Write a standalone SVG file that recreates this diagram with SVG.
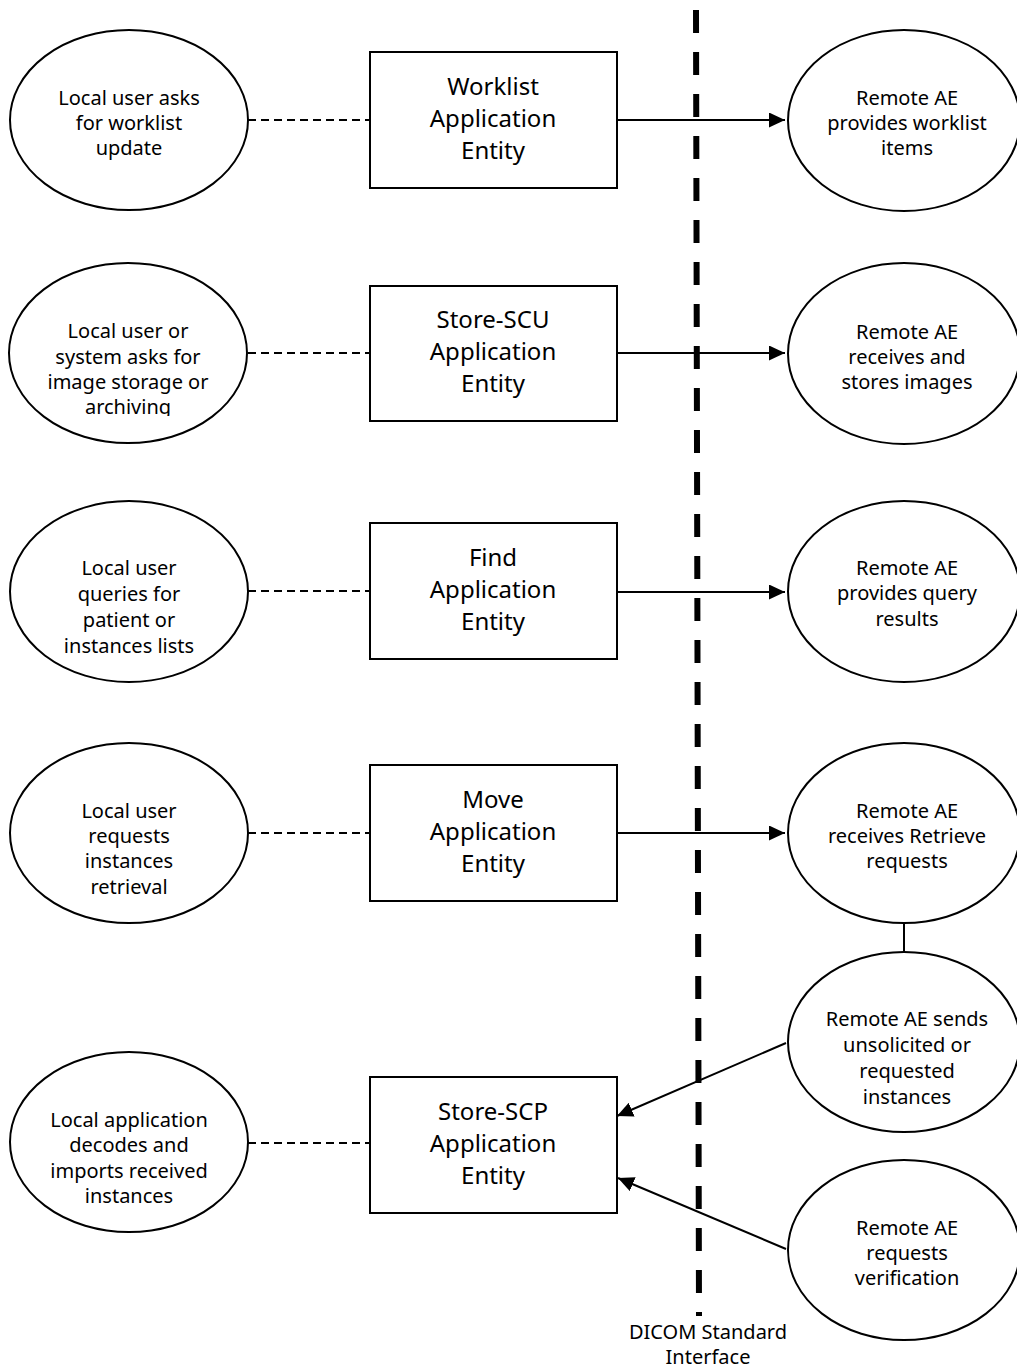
<svg xmlns="http://www.w3.org/2000/svg" width="1017" height="1369" viewBox="0 0 1017 1369">
  <style>
    .node { fill: #fff; stroke: #000; stroke-width: 2; }
    .t { font-family: "Noto Sans", "DejaVu Sans", sans-serif; font-size: 20px; fill: #000; text-anchor: middle; }
    .tb { font-family: "Noto Sans", "DejaVu Sans", sans-serif; font-size: 24px; fill: #000; text-anchor: middle; }
    .assoc { stroke: #000; stroke-width: 1.8; stroke-dasharray: 8 5; fill: none; }
    .flow { stroke: #000; stroke-width: 2; fill: none; marker-end: url(#arrow); }
    .link { stroke: #000; stroke-width: 2; fill: none; }
    .boundary { stroke: #000; stroke-width: 6; stroke-dasharray: 23 19; fill: none; }
  </style>
  <defs>
    <marker id="arrow" markerUnits="userSpaceOnUse" markerWidth="17" markerHeight="15" refX="16" refY="7.5" orient="auto">
      <path d="M0,0 L16,7.5 L0,15 z" fill="#000"/>
    </marker>
    <clipPath id="clip-local2">
      <rect x="0" y="250" width="360" height="166"/>
    </clipPath>
  </defs>
  <rect width="1017" height="1369" fill="#fff"/>

  <!-- DICOM boundary -->
  <g id="interface">
    <line class="boundary" x1="696" y1="10" x2="699" y2="1316"/>
    <text class="t" x="708" y="1339">DICOM Standard</text>
    <text class="t" x="708" y="1364">Interface</text>
  </g>

  <!-- connectors -->
  <g id="connectors">
    <line class="assoc" x1="248" y1="120" x2="370" y2="120"/>
    <line class="assoc" x1="248" y1="353" x2="370" y2="353"/>
    <line class="assoc" x1="248" y1="591" x2="370" y2="591"/>
    <line class="assoc" x1="248" y1="833" x2="370" y2="833"/>
    <line class="assoc" x1="248" y1="1143" x2="370" y2="1143"/>
    <line class="flow" x1="617" y1="120" x2="785" y2="120"/>
    <line class="flow" x1="617" y1="353" x2="785" y2="353"/>
    <line class="flow" x1="617" y1="592" x2="785" y2="592"/>
    <line class="flow" x1="617" y1="833" x2="785" y2="833"/>
    <line class="link" x1="904" y1="923" x2="904" y2="952"/>
    <line class="flow" x1="786" y1="1043" x2="617" y2="1116"/>
    <line class="flow" x1="786" y1="1249" x2="618" y2="1178"/>
  </g>

  <!-- local activities -->
  <g id="local-worklist">
    <ellipse class="node" cx="129" cy="120" rx="119" ry="90"/>
    <text class="t" x="129" y="105">Local user asks</text>
    <text class="t" x="129" y="130">for worklist</text>
    <text class="t" x="129" y="155">update</text>
  </g>
  <g id="local-store">
    <ellipse class="node" cx="128" cy="353" rx="119" ry="90"/>
    <g clip-path="url(#clip-local2)">
      <text class="t" x="128" y="338">Local user or</text>
      <text class="t" x="128" y="364">system asks for</text>
      <text class="t" x="128" y="389">image storage or</text>
      <text class="t" x="128" y="414">archiving</text>
    </g>
  </g>
  <g id="local-find">
    <ellipse class="node" cx="129" cy="591.5" rx="119" ry="90.5"/>
    <text class="t" x="129" y="575">Local user</text>
    <text class="t" x="129" y="601">queries for</text>
    <text class="t" x="129" y="627">patient or</text>
    <text class="t" x="129" y="653">instances lists</text>
  </g>
  <g id="local-move">
    <ellipse class="node" cx="129" cy="833" rx="119" ry="90"/>
    <text class="t" x="129" y="818">Local user</text>
    <text class="t" x="129" y="843">requests</text>
    <text class="t" x="129" y="868">instances</text>
    <text class="t" x="129" y="894">retrieval</text>
  </g>
  <g id="local-import">
    <ellipse class="node" cx="129" cy="1142" rx="119" ry="90"/>
    <text class="t" x="129" y="1127">Local application</text>
    <text class="t" x="129" y="1152">decodes and</text>
    <text class="t" x="129" y="1178">imports received</text>
    <text class="t" x="129" y="1203">instances</text>
  </g>

  <!-- application entities -->
  <g id="ae-worklist">
    <rect class="node" x="370" y="52" width="247" height="136"/>
    <text class="tb" x="493" y="95">Worklist</text>
    <text class="tb" x="493" y="127">Application</text>
    <text class="tb" x="493" y="159">Entity</text>
  </g>
  <g id="ae-store-scu">
    <rect class="node" x="370" y="286" width="247" height="135"/>
    <text class="tb" x="493" y="328">Store-SCU</text>
    <text class="tb" x="493" y="360">Application</text>
    <text class="tb" x="493" y="392">Entity</text>
  </g>
  <g id="ae-find">
    <rect class="node" x="370" y="523" width="247" height="136"/>
    <text class="tb" x="493" y="566">Find</text>
    <text class="tb" x="493" y="598">Application</text>
    <text class="tb" x="493" y="630">Entity</text>
  </g>
  <g id="ae-move">
    <rect class="node" x="370" y="765" width="247" height="136"/>
    <text class="tb" x="493" y="808">Move</text>
    <text class="tb" x="493" y="840">Application</text>
    <text class="tb" x="493" y="872">Entity</text>
  </g>
  <g id="ae-store-scp">
    <rect class="node" x="370" y="1077" width="247" height="136"/>
    <text class="tb" x="493" y="1120">Store-SCP</text>
    <text class="tb" x="493" y="1152">Application</text>
    <text class="tb" x="493" y="1184">Entity</text>
  </g>

  <!-- remote activities -->
  <g id="remote-worklist">
    <ellipse class="node" cx="904" cy="120.5" rx="116" ry="90.5"/>
    <text class="t" x="907" y="105">Remote AE</text>
    <text class="t" x="907" y="130">provides worklist</text>
    <text class="t" x="907" y="155">items</text>
  </g>
  <g id="remote-store">
    <ellipse class="node" cx="904" cy="353.5" rx="116" ry="90.5"/>
    <text class="t" x="907" y="339">Remote AE</text>
    <text class="t" x="907" y="364">receives and</text>
    <text class="t" x="907" y="389">stores images</text>
  </g>
  <g id="remote-find">
    <ellipse class="node" cx="904" cy="591.5" rx="116" ry="90.5"/>
    <text class="t" x="907" y="575">Remote AE</text>
    <text class="t" x="907" y="600">provides query</text>
    <text class="t" x="907" y="626">results</text>
  </g>
  <g id="remote-retrieve">
    <ellipse class="node" cx="904" cy="833" rx="116" ry="90"/>
    <text class="t" x="907" y="818">Remote AE</text>
    <text class="t" x="907" y="843">receives Retrieve</text>
    <text class="t" x="907" y="868">requests</text>
  </g>
  <g id="remote-send">
    <ellipse class="node" cx="904" cy="1042" rx="116" ry="90"/>
    <text class="t" x="907" y="1026">Remote AE sends</text>
    <text class="t" x="907" y="1052">unsolicited or</text>
    <text class="t" x="907" y="1078">requested</text>
    <text class="t" x="907" y="1104">instances</text>
  </g>
  <g id="remote-verify">
    <ellipse class="node" cx="904" cy="1250" rx="116" ry="90"/>
    <text class="t" x="907" y="1235">Remote AE</text>
    <text class="t" x="907" y="1260">requests</text>
    <text class="t" x="907" y="1285">verification</text>
  </g>
</svg>
